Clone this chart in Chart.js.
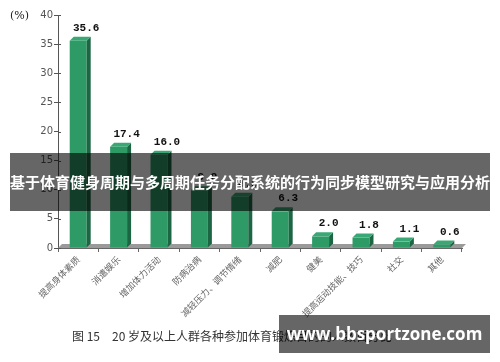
<!DOCTYPE html>
<html>
<head>
<meta charset="utf-8">
<script src="https://cdn.jsdelivr.net/npm/chart.js@4.4.1/dist/chart.umd.min.js"></script>
<style>
  body { margin: 0; background: #fff; }
  #wrap { position: relative; width: 500px; height: 362px; overflow: hidden; }
  #banner {
    position: absolute; left: 10px; top: 153px; width: 480px; height: 58px;
    background: rgba(0,0,0,0.6); color: #fff; font: bold 15px "Noto Sans CJK SC", sans-serif;
    line-height: 58px; text-align: center; white-space: nowrap;
  }
  #caption {
    position: absolute; left: 72px; top: 327px; color: #333;
    font: 12px "Noto Sans CJK SC", sans-serif; white-space: pre;
  }
  #mark {
    position: absolute; left: 279px; top: 315px; width: 211px; height: 38px;
    background: rgba(0,0,0,0.6); color: #fff; font: bold 17px "Open Sans", sans-serif;
    line-height: 38px; text-align: center;
  }
</style>
</head>
<body>
<div id="wrap">
  <canvas id="chart" width="500" height="362"></canvas>
  <div id="caption">图 15　20 岁及以上人群各种参加体育锻炼目的的人数百分比</div>
  <div id="banner">基于体育健身周期与多周期任务分配系统的行为同步模型研究与应用分析</div>
  <div id="mark">www.bbsportzone.com</div>
</div>
<script>
// purposes of exercise, % of people aged 20+
const categories = ['提高身体素质', '消遣娱乐', '增加体力活动', '防病治病', '减轻压力、调节情绪',
                    '减肥', '健美', '提高运动技能、技巧', '社交', '其他'];
const percents = [35.6, 17.4, 16.0, 9.9, 8.8, 6.3, 2.0, 1.8, 1.1, 0.6];
const yTicks = [0, 5, 10, 15, 20, 25, 30, 35, 40];

const DEPTH = 4;

// gray floor under the bars
const floorPlugin = {
    id: 'floor',
    beforeDatasetsDraw(chart) {
        const { ctx, chartArea } = chart;
        const b = chartArea.bottom;
        ctx.save();
        ctx.fillStyle = '#9a9a9a';
        ctx.beginPath();
        ctx.moveTo(chartArea.left, b);
        ctx.lineTo(chartArea.right, b);
        ctx.lineTo(chartArea.right + DEPTH, b - DEPTH);
        ctx.lineTo(chartArea.left + DEPTH, b - DEPTH);
        ctx.closePath();
        ctx.fill();
        // inner half of the y ticks
        const ys = chart.scales.y;
        ctx.strokeStyle = '#555';
        ctx.lineWidth = 1;
        yTicks.forEach(v => {
            const py = Math.round(ys.getPixelForValue(v)) + 0.5;
            ctx.beginPath();
            ctx.moveTo(chartArea.left, py);
            ctx.lineTo(chartArea.left + 3, py);
            ctx.stroke();
        });
        ctx.restore();
    }
};

// side + top faces, value labels
const bar3dPlugin = {
    id: 'bar3d',
    afterDatasetsDraw(chart) {
        const { ctx } = chart;
        const meta = chart.getDatasetMeta(0);
        ctx.save();
        meta.data.forEach((bar, i) => {
            const { x, y, base, width } = bar.getProps(['x', 'y', 'base', 'width'], true);
            const l = x - width / 2, r = x + width / 2;
            // side
            ctx.fillStyle = '#1d6643';
            ctx.beginPath();
            ctx.moveTo(r, y);
            ctx.lineTo(r + DEPTH, y - DEPTH);
            ctx.lineTo(r + DEPTH, base - DEPTH);
            ctx.lineTo(r, base);
            ctx.closePath();
            ctx.fill();
            // top
            ctx.fillStyle = '#3aa874';
            ctx.beginPath();
            ctx.moveTo(l, y);
            ctx.lineTo(l + DEPTH, y - DEPTH);
            ctx.lineTo(r + DEPTH, y - DEPTH);
            ctx.lineTo(r, y);
            ctx.closePath();
            ctx.fill();
            // label
            ctx.fillStyle = '#111';
            ctx.font = 'bold 11px "Liberation Mono", monospace';
            ctx.textAlign = 'center';
            ctx.textBaseline = 'alphabetic';
            ctx.fillText(percents[i].toFixed(1), x + 8, y - DEPTH - 6);
        });
        // unit label
        ctx.fillStyle = '#222';
        ctx.font = '11px "DejaVu Serif", serif';
        ctx.textAlign = 'left';
        ctx.fillText('(%)', 10, 19);
        ctx.restore();
    }
};

new Chart(document.getElementById('chart'), {
    type: 'bar',
    data: {
        labels: categories,
        datasets: [{
            data: percents,
            backgroundColor: '#2e9a66',
            barPercentage: 0.42,
            categoryPercentage: 1.0
        }]
    },
    options: {
        responsive: false,
        animation: false,
        layout: { padding: { top: 15, right: 38, left: 0, bottom: 0 } },
        plugins: { legend: { display: false }, tooltip: { enabled: false } },
        scales: {
            x: {
                grid: { drawOnChartArea: false, tickLength: 4, color: '#666' },
                border: { color: '#666', width: 1 },
                ticks: {
                    minRotation: 45, maxRotation: 45, color: '#666', padding: 2,
                    font: { size: 9, family: '"Noto Sans CJK SC", sans-serif' }
                },
                afterFit(scale) { scale.height = 114; }
            },
            y: {
                min: 0, max: 40,
                afterBuildTicks(scale) { scale.ticks = yTicks.map(v => ({ value: v })); },
                grid: { drawOnChartArea: false, tickLength: 4, color: '#555' },
                border: { color: '#555', width: 1 },
                ticks: { color: '#555', padding: 1, font: { size: 10, family: '"DejaVu Sans", sans-serif' } },
                afterFit(scale) { scale.width = 58; }
            }
        }
    },
    plugins: [floorPlugin, bar3dPlugin]
});
</script>
</body>
</html>
